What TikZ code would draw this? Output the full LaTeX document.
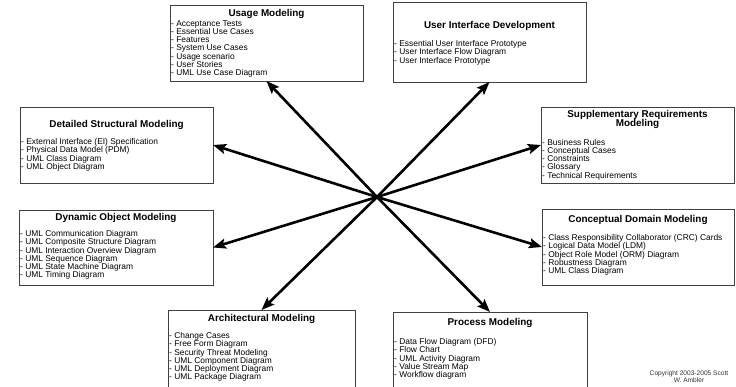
\documentclass[tikz,border=0pt]{standalone}
\usepackage{fontspec}
\setmainfont{Liberation Sans}
\usetikzlibrary{arrows.meta,shadows}

\tikzset{
  modelbox/.style={draw=black!75, line width=0.7pt, fill=white, inner sep=0pt, outer sep=0pt,
    drop shadow={shadow xshift=0.8pt, shadow yshift=-0.8pt, opacity=0.35, fill=black}},
  boxtitle/.style={font=\fontsize{9.9}{9.4}\selectfont\bfseries, align=center, inner sep=0pt},
  boxitems/.style={font=\fontsize{8.4}{8.15}\selectfont, align=left, anchor=north west, inner sep=0pt},
  spoke/.style={line width=2.6pt, -{Stealth[length=13pt,width=10pt,inset=2.5pt]}},
}

\begin{document}
\begin{tikzpicture}[x={(1pt,0)}, y={(0,-1pt)}]
	\useasboundingbox (0,0) rectangle (736,386);
	\clip (0,0) rectangle (736,386);
	\fill[white] (0,0) rectangle (736,386);

	% top row
	\node[modelbox, minimum width=193pt, minimum height=76pt] (usage) at (266.5,43) {};
	\node[boxtitle] (usageT) at ([yshift=-9pt]usage.north) {Usage Modeling};
	\node[boxitems] (usageL) at ([xshift=1pt,yshift=-15.5pt]usage.north west) {- Acceptance Tests\\- Essential Use Cases\\- Features\\- System Use Cases\\- Usage scenario\\- User Stories\\- UML Use Case Diagram};

	\node[modelbox, minimum width=193pt, minimum height=80pt] (ui) at (489.5,42) {};
	\node[boxtitle] (uiT) at ([yshift=-24pt]ui.north) {User Interface Development};
	\node[boxitems] (uiL) at ([xshift=1pt,yshift=-38.5pt]ui.north west) {- Essential User Interface Prototype\\- User Interface Flow Diagram\\- User Interface Prototype};

	% second row
	\node[modelbox, minimum width=193pt, minimum height=76pt] (detailed) at (116.5,145) {};
	\node[boxtitle] (detailedT) at ([yshift=-18pt]detailed.north) {Detailed Structural Modeling};
	\node[boxitems] (detailedL) at ([xshift=1pt,yshift=-31.5pt]detailed.north west) {- External Interface (EI) Specification\\- Physical Data Model (PDM)\\- UML Class Diagram\\- UML Object Diagram};

	\node[modelbox, minimum width=193pt, minimum height=76pt] (supp) at (637.5,145) {};
	\node[boxtitle] (suppT) at ([yshift=-12.5pt]supp.north) {Supplementary Requirements\\Modeling};
	\node[boxitems] (suppL) at ([xshift=1pt,yshift=-32.2pt]supp.north west) {- Business Rules\\- Conceptual Cases\\- Constraints\\- Glossary\\- Technical Requirements};

	% third row
	\node[modelbox, minimum width=194pt, minimum height=75pt] (dynamic) at (116,247.5) {};
	\node[boxtitle] (dynamicT) at ([yshift=-8pt]dynamic.north) {Dynamic Object Modeling};
	\node[boxitems] (dynamicL) at ([xshift=1pt,yshift=-20.5pt]dynamic.north west) {- UML Communication Diagram\\- UML Composite Structure Diagram\\- UML Interaction Overview Diagram\\- UML Sequence Diagram\\- UML State Machine Diagram\\- UML Timing Diagram};

	\node[modelbox, minimum width=192pt, minimum height=76pt] (concept) at (638,247) {};
	\node[boxtitle] (conceptT) at ([yshift=-11pt]concept.north) {Conceptual Domain Modeling};
	\node[boxitems] (conceptL) at ([xshift=1pt,yshift=-25.5pt]concept.north west) {- Class Responsibility Collaborator (CRC) Cards\\- Logical Data Model (LDM)\\- Object Role Model (ORM) Diagram\\- Robustness Diagram\\- UML Class Diagram};

	% bottom row (runs off the page)
	\node[modelbox, minimum width=187pt, minimum height=85pt] (arch) at (261.5,352.5) {};
	\node[boxtitle] (archT) at ([yshift=-9pt]arch.north) {Architectural Modeling};
	\node[boxitems] (archL) at ([xshift=1pt,yshift=-22.5pt]arch.north west) {- Change Cases\\- Free Form Diagram\\- Security Threat Modeling\\- UML Component Diagram\\- UML Deployment Diagram\\- UML Package Diagram};

	\node[modelbox, minimum width=194pt, minimum height=83pt] (process) at (490,353.5) {};
	\node[boxtitle] (processT) at ([yshift=-11pt]process.north) {Process Modeling};
	\node[boxitems] (processL) at ([xshift=1pt,yshift=-26.5pt]process.north west) {- Data Flow Diagram (DFD)\\- Flow Chart\\- UML Activity Diagram\\- Value Stream Map\\- Workflow diagram};

	\node[font=\fontsize{6.6}{7.2}\selectfont, align=center, text=black!80, inner sep=0pt] (copy) at (689,377) {Copyright 2003-2005 Scott\\W. Ambler};

	% spokes from the hub
	\coordinate (hub) at (377,197);
	\foreach \target in {usage.south, ui.south, detailed.east, supp.west, dynamic.east, concept.west, arch.north, process.north}
		\draw[spoke] (hub) -- (\target);
\end{tikzpicture}
\end{document}
